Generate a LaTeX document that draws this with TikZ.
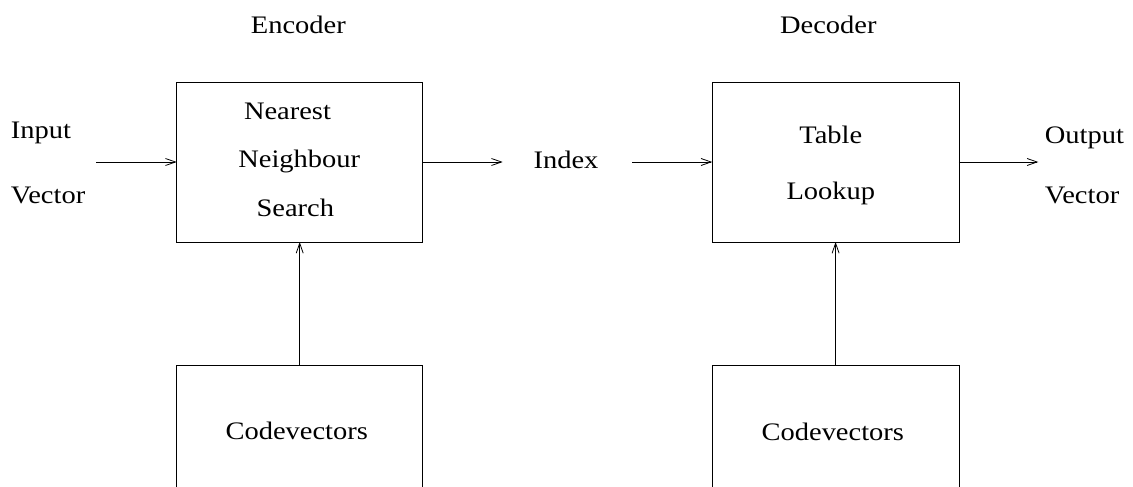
\documentclass[tikz,border=0pt]{standalone}
\usepackage{fontspec}
\setmainfont[FakeStretch=1.13]{Liberation Serif}
\usetikzlibrary{arrows.meta}
\begin{document}
\begin{tikzpicture}[x=1pt,y=-1pt,
  line width=0.8pt,
  lbl/.style={inner sep=0pt, anchor=base, font=\fontsize{25.2}{30}\selectfont},
  blockbox/.style={draw, inner sep=0pt, outer sep=0pt, minimum width=246pt, minimum height=160pt},
  bookbox/.style={draw, inner sep=0pt, outer sep=0pt, minimum width=246pt, minimum height=235pt},
  flow/.style={-{Straight Barb[length=10pt,width=7pt,line width=0.8pt]}}]
  % page frame; the codebook boxes run past the lower edge
  \clip (0,0) rectangle (1133,487);
  \fill[white] (0,0) rectangle (1133,487);

  % titles
  \node[lbl] (enctitle) at (298.3,33.3) {Encoder};
  \node[lbl] (dectitle) at (828.3,33.3) {Decoder};

  % encoder and decoder blocks
  \node[blockbox] (enc) at (299.7,162) {};
  \node[blockbox, minimum width=246.7pt] (dec) at (835.6,162) {};
  \node[lbl] (nearest) at (287.5,119) {Nearest};
  \node[lbl] (neighbour) at (299.2,167.3) {Neighbour};
  \node[lbl] (search) at (295.3,216.7) {Search};
  \node[lbl] (table) at (830.8,143.3) {Table};
  \node[lbl] (lookup) at (830.8,199) {Lookup};

  % codebooks
  \node[bookbox] (cbenc) at (299.7,482.5) {};
  \node[bookbox, minimum width=246.7pt] (cbdec) at (835.6,482.5) {};
  \node[lbl] (cvenc) at (296.7,439.5) {Codevectors};
  \node[lbl] (cvdec) at (832.8,440) {Codevectors};

  % side labels
  \node[lbl, anchor=base west] (inp1) at (10.5,138.3) {Input};
  \node[lbl, anchor=base west] (inp2) at (10.5,203.3) {Vector};
  \node[lbl] (index) at (566,168.3) {Index};
  \node[lbl, anchor=base west] (out1) at (1044.5,143.3) {Output};
  \node[lbl, anchor=base west] (out2) at (1044.5,203.3) {Vector};

  % free ends of the signal arrows
  \coordinate (inS) at (96,162);
  \coordinate (idxE) at (502.7,162);
  \coordinate (idxS) at (632.3,162);
  \coordinate (outE) at (1038.3,162);

  % signal flow
  \draw[flow] (inS) -- (enc.west);
  \draw[flow] (enc.east) -- (idxE);
  \draw[flow] (idxS) -- (dec.west);
  \draw[flow] (dec.east) -- (outE);
  \draw[flow] (cbenc.north) -- (enc.south);
  \draw[flow] (cbdec.north) -- (dec.south);
\end{tikzpicture}
\end{document}
